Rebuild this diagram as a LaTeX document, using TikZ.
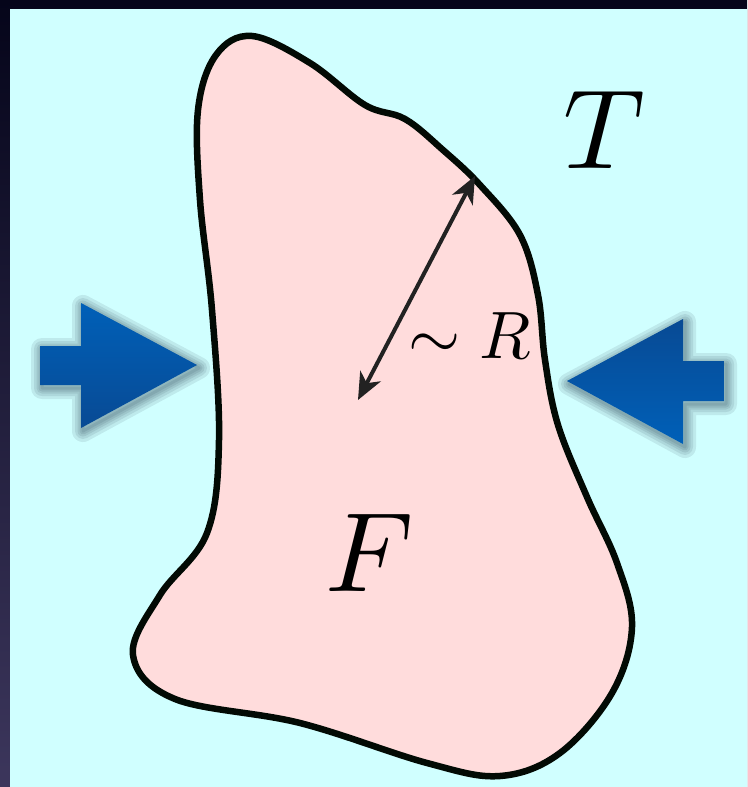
\documentclass[tikz,border=0pt]{standalone}
\usetikzlibrary{arrows.meta}
\definecolor{bgcyan}{RGB}{208,255,255}
\definecolor{blobpink}{RGB}{255,220,220}
\definecolor{outline}{RGB}{2,10,4}
\definecolor{darktop}{RGB}{5,5,26}
\definecolor{darkbot}{RGB}{60,54,92}
\definecolor{bluelight}{RGB}{0,96,184}
\definecolor{bluedark}{RGB}{8,74,148}
\definecolor{dimgray}{RGB}{34,34,34}
\definecolor{shadowcol}{RGB}{10,30,50}
\tikzset{
  blob/.style={fill=blobpink, draw=outline, line width=6.5pt, line join=round},
  glow/.style={draw=shadowcol, opacity=0.09, line join=round},
  dimarrow/.style={draw=dimgray, line width=4pt, {Stealth[length=27pt,width=23pt,inset=8pt]}-{Stealth[length=27pt,width=23pt,inset=8pt]}},
  biglabel/.style={inner sep=0pt, scale=11.3},
}
\newcommand\leftpush{(40,346) -- (81,346) -- (81,303) -- (197,365) -- (81,428) -- (81,385) -- (40,385) -- cycle}
\newcommand\rightpush{(724,361) -- (683,361) -- (683,319) -- (567,381) -- (683,444) -- (683,401) -- (724,401) -- cycle}
\begin{document}
\begin{tikzpicture}[x=1pt,y=-1pt]
\useasboundingbox (0,0) rectangle (747,787);
\shade[top color=darktop, bottom color=darkbot] (0,0) rectangle (747,787);
\fill[bgcyan] (10,9) rectangle (747,787);
% blob
\draw[blob] plot[smooth cycle, tension=0.6] coordinates {
 (252,36) (310,63) (365,105) (405,119) (443,150)
 (480,185) (520,235) (538,295) (545,360) (558,425) (587,497)
 (617,563) (632,627) (612,693) (560,753) (500,776)
 (427,763) (300,723) (175,699) (133,655) (160,595)
 (207,533) (219,440) (212,310) (200,200) (198,110) (216,55)};
% push arrows with soft shadow
\foreach \w in {22,16,11,7,3} {
  \draw[glow, line width=\w pt] [shift={(2,3)}] \leftpush;
  \draw[glow, line width=\w pt] [shift={(2,3)}] \rightpush;
}
\shade[top color=bluelight, bottom color=bluedark] \leftpush;
\shade[top color=bluedark, bottom color=bluelight] \rightpush;
% dimension
\coordinate (a1) at (358,400);
\coordinate (a2) at (475,176);
\draw[dimarrow] (a1) -- (a2);
\node[inner sep=0pt, scale=6.7] (R) at (470,336) {$\sim R$};
\node[biglabel] (T) at (604,130) {$T$};
\node[biglabel] (F) at (370,553) {$F$};
\end{tikzpicture}
\end{document}
